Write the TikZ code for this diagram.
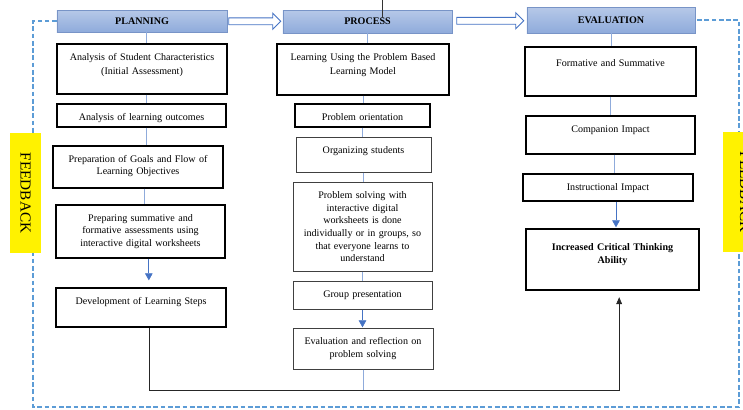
\documentclass[tikz,border=0pt]{standalone}
\usepackage{fontspec}
\setmainfont{Liberation Serif}
\usepackage{xcolor}
\definecolor{headblue}{rgb}{0.56, 0.67, 0.86}
\definecolor{headline}{rgb}{0.47, 0.58, 0.78}
\definecolor{arrowblue}{rgb}{0.27, 0.45, 0.77}
\definecolor{lineblue}{rgb}{0.56, 0.67, 0.86}
\definecolor{dashblue}{rgb}{0.36, 0.61, 0.84}
\usepackage{tikz}
\usetikzlibrary{arrows.meta,shapes.arrows,calc}
\newcommand{\boxfont}{\fontsize{8.6}{10.8}\selectfont}
\tikzset{
  header/.style={rectangle,draw=headline,top color=headblue!65,bottom color=headblue,font=\boxfont\bfseries},
  stepbox/.style={rectangle,draw,line width=1.3pt,anchor=north,align=center,inner sep=0pt,text height=0.49cm},
  plainbox/.style={stepbox,line width=0.6pt,draw=black!75},
  feedback/.style={rectangle,fill=yellow,rotate=-90,font=\fontsize{13}{15}\selectfont,minimum width=3.6cm,minimum height=0.93cm},
  hollow/.style={single arrow,draw=arrowblue,fill=white,line width=0.8pt,inner sep=0.09cm,single arrow head extend=0.135cm,minimum width=0.45cm},
  edge/.style={draw=lineblue,line width=0.6pt},
  flow/.style={-{Triangle[length=6pt,width=6.5pt]},draw=arrowblue,line width=0.6pt,shorten >=0.02cm},
  link/.style={-{Triangle[length=6pt,width=5pt]},draw=black!85,line width=0.6pt},
  feedline/.style={draw=dashblue,line width=1.6pt,dash pattern=on 4pt off 2.2pt}
}

\begin{document}
\begin{tikzpicture}[x=0.03cm,y=-0.03cm,font=\boxfont]
  \useasboundingbox (0,0) rectangle (743,409);

  % Column heads
  \node[header,minimum width=5.1cm,minimum height=0.66cm] (plan) at (142,21) {PLANNING};
  \node[header,minimum width=5.07cm,minimum height=0.69cm] (proc) at (367.5,21.5) {PROCESS};
  \node[header,minimum width=5.04cm,minimum height=0.78cm] (eval) at (611,20) {EVALUATION};
  \draw[black!80] ([xshift=0.44cm,yshift=0.3cm]proc.north) -- ([xshift=0.44cm,yshift=-0.24cm]proc.north);

  % Hollow arrows between heads
  \node[hollow,minimum height=1.56cm] (go1) at ($(plan.east)!0.5!(proc.west)+(-2,0)$) {};
  \node[hollow,minimum height=2.01cm] (go2) at ($(proc.east)!0.5!(eval.west)+(-1,0)$) {};

  % Planning column
  \node[stepbox,text width=5.1cm,text depth=1.01cm,font=\fontsize{8.6}{12}\selectfont] (a1) at (142,43) {Analysis of Student Characteristics\\(Initial Assessment)};
  \node[stepbox,text width=5.07cm,text depth=0.2cm] (a2) at (141.5,103) {Analysis of learning outcomes};
  \node[stepbox,text width=5.1cm,text depth=0.77cm] (a3) at (138,145) {Preparation of Goals and Flow of\\Learning Objectives};
  \node[stepbox,text width=5.07cm,text depth=1.1cm] (a4) at (140.5,204) {Preparing summative and\\formative assessments using\\interactive digital worksheets};
  \node[stepbox,text width=5.1cm,text depth=0.68cm] (a5) at (141,287) {Development of Learning Steps};

  % Process column
  \node[stepbox,text width=5.16cm,text depth=1.04cm,font=\fontsize{8.6}{12}\selectfont] (b1) at (363,43) {Learning Using the Problem Based\\Learning Model};
  \node[stepbox,text width=4.05cm,text depth=0.2cm] (b2) at (362.5,103) {Problem orientation};
  \node[plainbox,text width=4.05cm,text depth=0.56cm] (b3) at (363.5,137) {Organizing students};
  \node[plainbox,text width=4.17cm,text depth=2.18cm] (b4) at (362.5,182) {Problem solving with\\interactive digital\\worksheets is done\\individually or in groups, so\\that everyone learns to\\understand};
  \node[plainbox,text width=4.17cm,text depth=0.35cm] (b5) at (362.5,281) {Group presentation};
  \node[plainbox,text width=4.2cm,text depth=0.74cm] (b6) at (363,328) {Evaluation and reflection on\\problem solving};

  % Evaluation column
  \node[stepbox,text width=5.13cm,text height=0.6cm,text depth=0.87cm] (c1) at (610.5,46) {Formative and Summative};
  \node[stepbox,text width=5.07cm,text depth=0.65cm] (c2) at (610.5,115) {Companion Impact};
  \node[stepbox,text width=5.1cm,text depth=0.32cm] (c3) at (608,173) {Instructional Impact};
  \node[stepbox,font=\boxfont\bfseries,text width=5.19cm,text height=0.66cm,text depth=1.17cm] (c4) at (612.5,228) {Increased Critical Thinking\\Ability};

  % Links inside the columns
  \draw[edge] ([xshift=0.12cm]plan.south) -- ([xshift=0.12cm]a1.north);
  \draw[edge] ([xshift=0.12cm]a1.south) -- ([xshift=0.12cm]a1.south |- a2.north);
  \draw[edge] ([xshift=0.15cm]a2.south) -- ([xshift=0.15cm]a2.south |- a3.north);
  \draw[edge] ([xshift=0.2cm]a3.south) -- ([xshift=0.2cm]a3.south |- a4.north);
  \draw[flow,shorten >=0.2cm] ([xshift=0.25cm]a4.south) -- ([xshift=0.25cm]a4.south |- a5.north);

  \draw[edge] (proc.south) -- (proc.south |- b1.north);
  \draw[edge] (b1.south) -- (b1.south |- b2.north);
  \draw[edge] (b2.south) -- (b2.south |- b3.north);
  \draw[edge] (b3.south) -- (b3.south |- b4.north);
  \draw[edge] (b4.south) -- (b4.south |- b5.north);
  \draw[flow] (b5.south) -- (b5.south |- b6.north);

  \draw[edge] (eval.south) -- (eval.south |- c1.north);
  \draw[edge] (c1.south) -- (c1.south |- c2.north);
  \draw[edge] ([xshift=0.12cm]c2.south) -- ([xshift=0.12cm]c2.south |- c3.north);
  \draw[flow] ([xshift=0.24cm]c3.south) -- ([xshift=0.24cm]c3.south |- c4.north);

  % Bottom line to the result
  \coordinate (base) at (0,390);
  \draw[edge] (b6.south) -- (b6.south |- base);
  \draw[link,shorten >=0.2cm] ([xshift=0.24cm]a5.south) |- ([xshift=0.2cm]c4.south |- base) -- ([xshift=0.2cm]c4.south);

  % Feedback loop
  \coordinate (fbl) at (33,407);
  \coordinate (fbr) at (739,407);
  \draw[feedline] (plan.west) -| (fbl) -- (fbr) |- (eval.east);
  \node[feedback] (fb1) at (25.5,193) {FEEDBACK};
  \node[feedback,minimum height=1.32cm] (fb2) at (745,192) {FEEDBACK};
\end{tikzpicture}
\end{document}
